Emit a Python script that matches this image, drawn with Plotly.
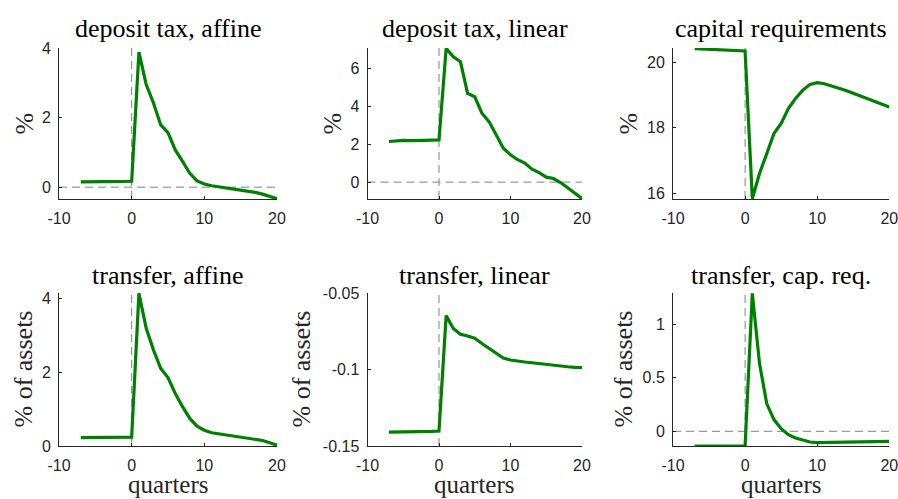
import plotly.graph_objects as go

quarters = list(range(-7, 21))

deposit_tax_affine = [0.15, 0.16, 0.16, 0.16, 0.16, 0.16, 0.17, 0.17,
                      3.88, 2.95, 2.42, 1.79, 1.57, 1.07, 0.74, 0.40, 0.18, 0.09,
                      0.04, 0.01, -0.03, -0.06, -0.10, -0.13, -0.15, -0.20, -0.26, -0.33]
deposit_tax_linear = [2.14, 2.19, 2.20, 2.19, 2.18, 2.20, 2.21, 2.22,
                      7.05, 6.61, 6.35, 4.68, 4.50, 3.63, 3.19, 2.49, 1.79, 1.44,
                      1.18, 1.00, 0.68, 0.50, 0.26, 0.19, -0.02, -0.30, -0.58, -0.87]
capital_requirements = [20.41, 20.40, 20.40, 20.39, 20.38, 20.37, 20.36, 20.34,
                        15.83, 16.60, 17.20, 17.82, 18.13, 18.58, 18.89, 19.14, 19.32, 19.37,
                        19.34, 19.26, 19.20, 19.13, 19.05, 18.95, 18.88, 18.80, 18.72, 18.63]
transfer_affine = [0.23, 0.23, 0.23, 0.23, 0.23, 0.23, 0.23, 0.24,
                   4.15, 3.20, 2.61, 2.11, 1.86, 1.43, 1.07, 0.75, 0.54, 0.43,
                   0.36, 0.33, 0.30, 0.27, 0.24, 0.22, 0.20, 0.15, 0.09, 0.02]
transfer_linear = [-0.1409, -0.1409, -0.1409, -0.1408, -0.1407, -0.1406, -0.1405, -0.1402,
                   -0.0648, -0.0732, -0.0770, -0.0781, -0.0796, -0.0830, -0.0863, -0.0896, -0.0925, -0.0938,
                   -0.0947, -0.0951, -0.0956, -0.0962, -0.0969, -0.0973, -0.0978, -0.0982, -0.0986, -0.0987]
transfer_cap_req = [-0.137, -0.137, -0.137, -0.137, -0.137, -0.137, -0.137, -0.137,
                    1.287, 0.632, 0.259, 0.109, 0.025, -0.031, -0.062, -0.084, -0.100, -0.106,
                    -0.105, -0.104, -0.104, -0.103, -0.102, -0.101, -0.100, -0.098, -0.096, -0.093]

titles = ["deposit tax, affine", "deposit tax, linear", "capital requirements",
          "transfer, affine", "transfer, linear", "transfer, cap. req."]
series = [deposit_tax_affine, deposit_tax_linear, capital_requirements,
          transfer_affine, transfer_linear, transfer_cap_req]
y_ranges = [[-0.34, 4.0], [-0.89, 7.07], [15.82, 20.43],
            [0.0, 4.16], [-0.15, -0.05], [-0.137, 1.29]]
y_ticks = [[0, 2, 4], [0, 2, 4, 6], [16, 18, 20],
           [0, 2, 4], [-0.15, -0.1, -0.05], [0, 0.5, 1]]
y_ticktext = [["0", "2", "4"], ["0", "2", "4", "6"], ["16", "18", "20"],
              ["0", "2", "4"], ["-0.15", "-0.1", "-0.05"], ["0", "0.5", "1"]]
y_labels = ["%", "%", "%", "% of assets", "% of assets", "% of assets"]
zero_hline = [True, True, False, False, False, True]
x_ticks = [-10, 0, 10, 20]
x_ticktext = ["-10", "0", "10", "20"]

W, H = 898, 499
col_px = [(59, 277), (367.5, 582), (673, 889.3)]
row_px = [(48, 199), (293, 446)]
ylabel_x = [24, 332, 628, 23, 301, 623]
title_y = [28, 275]

AX = "#262626"
TICKFONT = dict(family="Liberation Sans", size=16, color=AX)
SERIF = "Liberation Serif"

fig = go.Figure()
annotations = []
shapes = []
for i in range(6):
    r, c = divmod(i, 3)
    n = i + 1
    xa = "x" if n == 1 else f"x{n}"
    ya = "y" if n == 1 else f"y{n}"
    x0, x1 = col_px[c]
    y0, y1 = row_px[r]
    fig.add_trace(go.Scatter(x=quarters, y=series[i], mode="lines",
                             line=dict(color="#008000", width=3.2),
                             xaxis=xa, yaxis=ya, showlegend=False))
    axis_common = dict(showgrid=False, zeroline=False, showline=True, linecolor=AX,
                       linewidth=1, ticks="inside", ticklen=3, tickcolor=AX,
                       tickfont=TICKFONT, mirror=False, automargin=False,
                       ticklabeloverflow="allow")
    fig.layout[f"xaxis{'' if n == 1 else n}"] = dict(
        domain=[x0 / W, x1 / W], range=[-10, 20], anchor=ya,
        tickvals=x_ticks, ticktext=x_ticktext, ticklabelstandoff=5, **axis_common)
    fig.layout[f"yaxis{'' if n == 1 else n}"] = dict(
        domain=[1 - y1 / H, 1 - y0 / H], range=y_ranges[i], anchor=xa,
        tickvals=y_ticks[i], ticktext=y_ticktext[i], ticklabelstandoff=4, **axis_common)
    shapes.append(dict(type="line", xref=xa, yref=f"{ya} domain", x0=0, x1=0, y0=0, y1=1,
                       line=dict(color="#808080", width=1, dash="8px,5px"), layer="below"))
    if zero_hline[i]:
        shapes.append(dict(type="line", xref=f"{xa} domain", yref=ya, x0=0, x1=1, y0=0, y1=0,
                           line=dict(color="#808080", width=1, dash="8px,5px"), layer="below"))
    annotations.append(dict(text=titles[i], xref="paper", yref="paper",
                            x=(x0 + x1) / 2 / W, y=1 - title_y[r] / H,
                            xanchor="center", yanchor="middle", showarrow=False,
                            font=dict(family=SERIF, size=26, color="black")))
    annotations.append(dict(text=y_labels[i], xref="paper", yref="paper",
                            x=ylabel_x[i] / W, y=1 - (y0 + y1) / 2 / H, textangle=-90,
                            xanchor="center", yanchor="middle", showarrow=False,
                            font=dict(family=SERIF, size=26, color=AX)))
    if r == 1:
        annotations.append(dict(text="quarters", xref="paper", yref="paper",
                                x=(x0 + x1) / 2 / W, y=0,
                                xanchor="center", yanchor="bottom", showarrow=False,
                                borderpad=0,
                                font=dict(family=SERIF, size=25, color=AX)))

fig.update_layout(template="none", width=W, height=H,
                  margin=dict(l=0, r=0, t=0, b=0, pad=0, autoexpand=False),
                  paper_bgcolor="white", plot_bgcolor="white",
                  annotations=annotations, shapes=shapes)

fig.write_html("out.html", post_script="document.body.style.margin='0';")
